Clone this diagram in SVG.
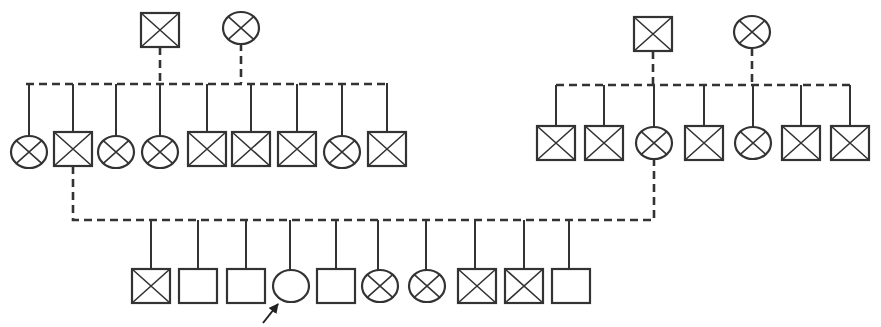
<svg xmlns="http://www.w3.org/2000/svg" width="881" height="327" viewBox="0 0 881 327">
<style>
.n{fill:#fff;stroke:#333;stroke-width:2.2}
.x{stroke:#333;stroke-width:1.6;fill:none}
.s{stroke:#333;stroke-width:2;fill:none}
.d{stroke:#333;stroke-width:2.6;fill:none;stroke-dasharray:8 5}
</style>
<defs>
<g id="sqX"><rect class="n" x="-19" y="-17" width="38" height="34"/><path class="x" d="M-19-17L19 17M19-17L-19 17"/></g>
<g id="sq"><rect class="n" x="-19" y="-17" width="38" height="34"/></g>
<g id="ciX"><ellipse class="n" rx="18" ry="16"/><path class="x" d="M-12.7-11.3L12.7 11.3M12.7-11.3L-12.7 11.3"/></g>
<g id="ci"><ellipse class="n" rx="18" ry="16"/></g>
<marker id="ah" viewBox="0 0 10 10" refX="9" refY="5" markerWidth="5" markerHeight="5" orient="auto"><path d="M0 0L10 5L0 10z" fill="#222"/></marker>
</defs>
<rect width="881" height="327" fill="#fff"/>
<g id="connectors">
<path class="d" d="M160 47V83M241 43V83M26 84H387"/>
<path class="s" d="M29 84V136M73 84V132M116 84V136M160 84V136M207 84V132M251 84V132M297 84V132M342 84V136M387 83V132"/>
<path class="d" d="M653 51V84M752 48V84M556 85H850"/>
<path class="s" d="M556 85V126M604 85V126M654 85V127M704 85V126M753 85V127M801 85V126M850 85V126"/>
<path class="d" d="M73 166V220H654V159"/>
<path class="s" d="M151 220V269M198 220V269M246 220V269M290 220V270M336 220V269M378 220V270M426 220V270M475 220V269M524 220V269M569 220V269"/>
<path d="M263 323L278 304" stroke="#222" stroke-width="2" marker-end="url(#ah)"/>
</g>
<g id="gp1"><use href="#sqX" x="160" y="30"/></g>
<g id="gm1"><use href="#ciX" x="241" y="28"/></g>
<g id="gp2"><use href="#sqX" x="653" y="34"/></g>
<g id="gm2"><use href="#ciX" x="752" y="32"/></g>
<g id="a1"><use href="#ciX" x="29" y="152"/></g>
<g id="a2"><use href="#sqX" x="73" y="149"/></g>
<g id="a3"><use href="#ciX" x="116" y="152"/></g>
<g id="a4"><use href="#ciX" x="160" y="152"/></g>
<g id="a5"><use href="#sqX" x="207" y="149"/></g>
<g id="a6"><use href="#sqX" x="251" y="149"/></g>
<g id="a7"><use href="#sqX" x="297" y="149"/></g>
<g id="a8"><use href="#ciX" x="342" y="152"/></g>
<g id="a9"><use href="#sqX" x="387" y="149"/></g>
<g id="b1"><use href="#sqX" x="556" y="143"/></g>
<g id="b2"><use href="#sqX" x="604" y="143"/></g>
<g id="b3"><use href="#ciX" x="654" y="143"/></g>
<g id="b4"><use href="#sqX" x="704" y="143"/></g>
<g id="b5"><use href="#ciX" x="753" y="143"/></g>
<g id="b6"><use href="#sqX" x="801" y="143"/></g>
<g id="b7"><use href="#sqX" x="850" y="143"/></g>
<g id="c1"><use href="#sqX" x="151" y="286"/></g>
<g id="c2"><use href="#sq" x="198" y="286"/></g>
<g id="c3"><use href="#sq" x="246" y="286"/></g>
<g id="c4"><use href="#ci" x="291" y="286"/></g>
<g id="c5"><use href="#sq" x="336" y="286"/></g>
<g id="c6"><use href="#ciX" x="380" y="286"/></g>
<g id="c7"><use href="#ciX" x="427" y="286"/></g>
<g id="c8"><use href="#sqX" x="477" y="286"/></g>
<g id="c9"><use href="#sqX" x="524" y="286"/></g>
<g id="c10"><use href="#sq" x="571" y="286"/></g>
</svg>
